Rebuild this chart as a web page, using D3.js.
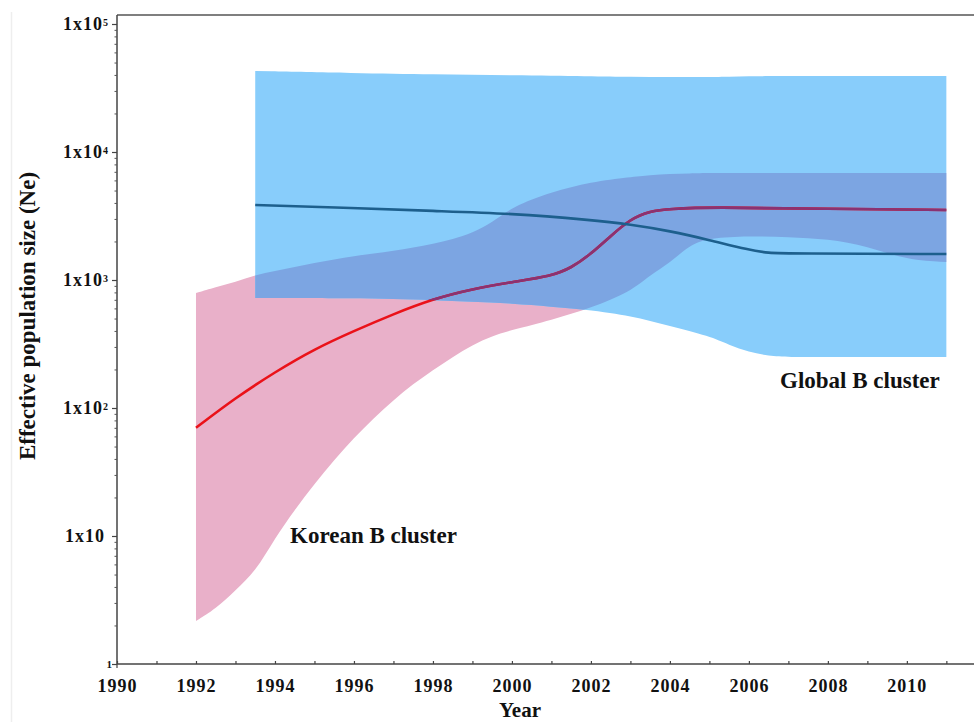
<!DOCTYPE html>
<html>
<head>
<meta charset="utf-8">
<script src="https://cdn.jsdelivr.net/npm/d3@7"></script>
<style>
  html, body { margin: 0; padding: 0; background: #fff; }
  svg { display: block; }
  text { font-family: "Liberation Serif", "Times New Roman", serif; font-weight: bold; fill: #111; }
</style>
</head>
<body>
<svg id="chart" width="974" height="722"></svg>
<script>
// ---------- data ----------
// Korean B cluster: median and 95% HPD band
const koreanYears = [1992, 1993, 1994, 1995, 1996, 1997, 1998, 1999, 2000, 2001, 2001.5, 2002, 2002.5, 2003, 2003.5, 2004, 2005, 2008, 2011];
const koreanMedian = [70, 120, 191, 289, 400, 542, 711, 851, 964, 1074, 1241, 1596, 2207, 2997, 3460, 3589, 3718, 3589, 3524];

const koreanBandYears = [1992, 1992.5, 1993, 1993.5, 1994, 1994.5, 1995, 1995.5, 1996, 1996.5, 1997, 1997.5, 1998, 1998.5, 1999, 1999.5, 2000, 2001, 2002, 2003, 2003.5, 2004, 2004.5, 2005, 2006, 2007, 2008, 2009, 2010, 2011];
const koreanUpper = [791, 880, 964, 1096, 1175, 1260, 1358, 1450, 1540, 1610, 1686, 1790, 1910, 2080, 2330, 2800, 3720, 4870, 5830, 6380, 6600, 6750, 6800, 6860, 6860, 6860, 6860, 6860, 6860, 6860];
const koreanLower = [2.17, 2.69, 3.78, 5.23, 9.64, 16, 25.5, 39.2, 58.3, 83.5, 115, 154, 198, 250, 311, 365, 407, 487, 604, 806, 1094, 1358, 1875, 2130, 2207, 2168, 2090, 1844, 1432, 1382];

// Global B cluster: median and 95% HPD band
const globalYears = [1993.5, 1996, 1998, 2000, 2002, 2003, 2004, 2005, 2006, 2006.5, 2007, 2011];
const globalMedian = [3855, 3650, 3460, 3310, 2943, 2716, 2415, 2054, 1715, 1625, 1611, 1596];

const globalBandYears = [1993.5, 1996, 1998, 2000, 2002, 2003, 2004, 2005, 2005.5, 2006, 2006.5, 2007, 2008, 2011];
const globalUpper = [42950, 41400, 40500, 39800, 39100, 38700, 38500, 38600, 38800, 39000, 39200, 39260, 39260, 39260];
const globalLower = [723, 723, 698, 661, 583, 524, 437, 365, 310, 274, 255, 250, 250, 250];

// axis ticks
const xMajorTicks = [1990, 1992, 1994, 1996, 1998, 2000, 2002, 2004, 2006, 2008, 2010];
const xMinorTicks = [1991, 1993, 1995, 1997, 1999, 2001, 2003, 2005, 2007, 2009, 2011];
const yMajorTicks = [1, 10, 100, 1000, 10000, 100000];
const yTickLabels = [["1", ""], ["1x10", ""], ["1x10", "2"], ["1x10", "3"], ["1x10", "4"], ["1x10", "5"]];

const labelKorean = "Korean B cluster";
const labelGlobal = "Global B cluster";
const xTitle = "Year";
const yTitle = "Effective population size (Ne)";

// ---------- drawing ----------
const svg = d3.select("#chart");
const pLeft = 117, pRight = 974, pTop = 15, pBottom = 664;

const x = d3.scaleLinear().domain([1990, 2011.7]).range([pLeft, pRight]);
const y = d3.scaleLog().domain([1, 1e5]).range([pBottom, 24]);

const colPink = "#e9b0c9";
const colBlue = "#88cdfb";
const colOverlap = "#7ca5e2";
const colRed = "#ea1219";
const colPurple = "#8a3272";
const colBlueLine = "#1d5f8d";

const curve = d3.curveBasis;

const koreanBand = koreanBandYears.map((d, i) => ({ t: d, lo: koreanLower[i], hi: koreanUpper[i] }));
const globalBand = globalBandYears.map((d, i) => ({ t: d, lo: globalLower[i], hi: globalUpper[i] }));
const koreanLine = koreanYears.map((d, i) => ({ t: d, v: koreanMedian[i] }));
const globalLine = globalYears.map((d, i) => ({ t: d, v: globalMedian[i] }));

const area = d3.area().x(d => x(d.t)).y0(d => y(d.lo)).y1(d => y(d.hi)).curve(curve);
const line = d3.line().x(d => x(d.t)).y(d => y(d.v)).curve(curve);

const defs = svg.append("defs");
defs.append("clipPath").attr("id", "globalClip")
  .append("path").attr("d", area(globalBand));

// faint left border of the original figure
svg.append("line").attr("x1", 11.5).attr("x2", 11.5).attr("y1", 12).attr("y2", 722)
  .attr("stroke", "#eeeeee").attr("stroke-width", 1.5);

// bands
svg.append("path").attr("d", area(koreanBand)).attr("fill", colPink);
svg.append("path").attr("d", area(globalBand)).attr("fill", colBlue);
svg.append("path").attr("d", area(koreanBand)).attr("fill", colOverlap)
  .attr("clip-path", "url(#globalClip)");

// median lines
svg.append("path").attr("d", line(koreanLine)).attr("fill", "none")
  .attr("stroke", colRed).attr("stroke-width", 2.6);
svg.append("path").attr("d", line(koreanLine)).attr("fill", "none")
  .attr("stroke", colPurple).attr("stroke-width", 2.6)
  .attr("clip-path", "url(#globalClip)");
svg.append("path").attr("d", line(globalLine)).attr("fill", "none")
  .attr("stroke", colBlueLine).attr("stroke-width", 2.6);

// frame: top line
svg.append("line").attr("x1", pLeft).attr("x2", pRight).attr("y1", pTop).attr("y2", pTop)
  .attr("stroke", "#555").attr("stroke-width", 1.5);

// x axis
const xAxisG = svg.append("g").attr("transform", `translate(0,${pBottom})`);
xAxisG.call(d3.axisBottom(x).tickValues(xMajorTicks).tickSize(-3).tickPadding(8).tickFormat(d3.format("d")));
xAxisG.select(".domain").attr("stroke", "#444").attr("stroke-width", 1.5).attr("d", `M${pLeft},0H${pRight}`);
xAxisG.selectAll(".tick line").attr("stroke", "#444").attr("stroke-width", 1.2);
xAxisG.selectAll(".tick text")
  .attr("y", 22).attr("dy", "0.35em")
  .style("font-family", "'Liberation Serif', serif").style("font-weight", "bold")
  .style("font-size", "18px").style("letter-spacing", "1px").attr("fill", "#111");
const xMinorG = svg.append("g").attr("transform", `translate(0,${pBottom})`);
xMinorG.call(d3.axisBottom(x).tickValues(xMinorTicks.filter(v => v <= 2011.7)).tickSize(-3).tickFormat(""));
xMinorG.select(".domain").remove();
xMinorG.selectAll(".tick line").attr("stroke", "#444").attr("stroke-width", 1.2);
// tick at origin pointing down
svg.append("line").attr("x1", pLeft).attr("x2", pLeft).attr("y1", pBottom).attr("y2", pBottom + 4)
  .attr("stroke", "#444").attr("stroke-width", 1.2);

// y axis
const yAxisG = svg.append("g").attr("transform", `translate(${pLeft},0)`);
yAxisG.call(d3.axisLeft(y).tickValues(yMajorTicks).tickSize(5).tickFormat(""));
yAxisG.select(".domain").attr("stroke", "#444").attr("stroke-width", 1.5).attr("d", `M0,${pBottom}V${pTop}`);
yAxisG.selectAll(".tick line").attr("stroke", "#444").attr("stroke-width", 1.2);
const yMinorVals = [];
for (let e = 0; e < 5; e++) for (let k = 2; k <= 9; k++) yMinorVals.push(k * Math.pow(10, e));
const yMinorG = svg.append("g").attr("transform", `translate(${pLeft},0)`);
yMinorG.call(d3.axisLeft(y).tickValues(yMinorVals).tickSize(2.5).tickFormat(""));
yMinorG.select(".domain").remove();
yMinorG.selectAll(".tick line").attr("stroke", "#555").attr("stroke-width", 1);

// y tick labels with superscripts
yMajorTicks.forEach((v, i) => {
  const [base, sup] = yTickLabels[i];
  const t = svg.append("text").attr("text-anchor", "end")
    .attr("x", sup ? 108 : (v === 1 ? 112 : 105))
    .attr("y", y(v)).attr("dy", "0.35em");
  if (v === 1) {
    t.style("font-size", "11px").text(base);
  } else {
    t.style("font-size", "18px").style("letter-spacing", "1px");
    t.append("tspan").text(base);
    if (sup) t.append("tspan").attr("dy", "-0.45em").style("font-size", "10px").style("letter-spacing", "0px").text(sup);
  }
});

// titles
svg.append("text").attr("x", 520).attr("y", 717).attr("text-anchor", "middle")
  .style("font-size", "21px").text(xTitle);
svg.append("text").attr("transform", `translate(35,316) rotate(-90)`)
  .attr("text-anchor", "middle").style("font-size", "23px").text(yTitle);

// cluster labels
svg.append("text").attr("x", 290).attr("y", 543).style("font-size", "23px").text(labelKorean);
svg.append("text").attr("x", 780).attr("y", 388).style("font-size", "23px").text(labelGlobal);
</script>
</body>
</html>
